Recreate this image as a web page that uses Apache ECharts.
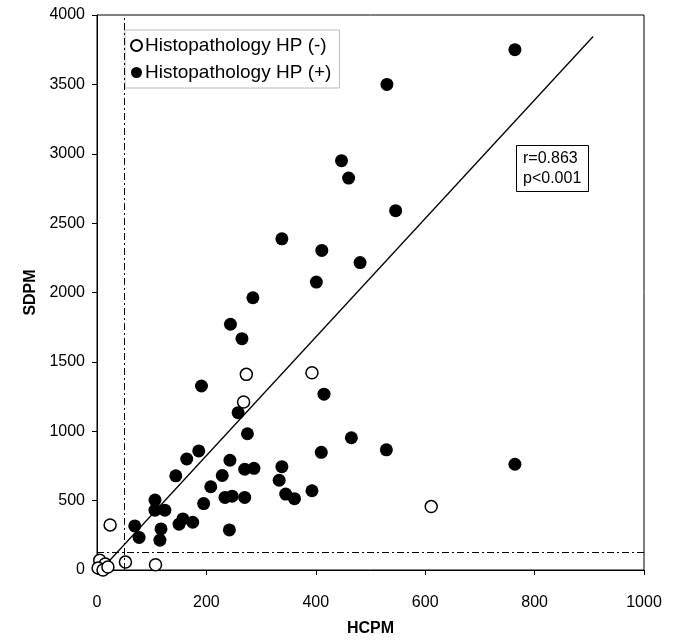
<!DOCTYPE html>
<html>
<head>
<meta charset="utf-8">
<script src="https://cdn.jsdelivr.net/npm/echarts@6/dist/echarts.min.js"></script>
<style>
  html, body { margin: 0; padding: 0; background: #fff; }
  #main { width: 675px; height: 642px; }
</style>
</head>
<body>
<div id="main"></div>
<script>
// HP (+) points : [HCPM, SDPM]
var hpPos = [
  [764, 3750], [530, 3500], [447, 2950], [460, 2825], [546, 2590],
  [338, 2387], [411, 2303], [481, 2216], [401, 2075], [285, 1962],
  [244, 1771], [265, 1667], [191, 1326], [415, 1267], [258, 1134],
  [275, 982], [465, 953], [529, 866], [764, 762], [410, 848],
  [186, 858], [164, 800], [243, 791], [144, 679], [229, 681],
  [270, 726], [287, 733], [338, 745], [333, 647], [208, 600],
  [393, 571], [345, 547], [361, 514], [234, 523], [247, 532],
  [270, 523], [195, 479], [106, 504], [106, 431], [124, 431],
  [69, 318], [157, 368], [150, 330], [175, 344], [117, 296],
  [242, 289], [77, 235], [115, 215], [10, 5]
];
// HP (-) points
var hpNeg = [
  [273, 1410], [393, 1422], [268, 1211], [611, 457], [24, 325],
  [52, 57], [107, 38], [5, 70], [15, 43], [2, 14], [11, 0], [20, 22]
];
// regression line end points
var fitLine = [[10, 13], [907, 3845]];
// cut-off lines
var cutX = 50;
var cutY = 130;
var xTicks = [0, 200, 400, 600, 800, 1000];
var yTicks = [0, 500, 1000, 1500, 2000, 2500, 3000, 3500, 4000];

var font = 'Liberation Sans, Arial, sans-serif';
var chart = echarts.init(document.getElementById('main'));

chart.setOption({
  animation: false,
  backgroundColor: '#fff',
  textStyle: { fontFamily: font },
  grid: { left: 97, right: 31, top: 15, bottom: 68, show: true, borderColor: '#000', borderWidth: 1 },
  title: {
    text: 'r=0.863\np<0.001',
    left: 516, top: 145,
    borderColor: '#000', borderWidth: 1,
    padding: [4, 7, 3, 7],
    textStyle: { fontFamily: font, fontSize: 16, fontWeight: 'normal', color: '#000', lineHeight: 20 }
  },
  legend: {
    orient: 'vertical',
    left: 125, top: 30,
    padding: [6, 8, 6, 5],
    itemGap: 8,
    itemWidth: 11, itemHeight: 11,
    borderColor: '#bbb', borderWidth: 1,
    backgroundColor: '#fff',
    textStyle: { fontFamily: font, fontSize: 19, color: '#000', padding: [0, 0, 0, -2] },
    data: [
      { name: 'Histopathology HP (-)', icon: 'circle' },
      { name: 'Histopathology HP (+)', icon: 'circle' }
    ]
  },
  xAxis: {
    type: 'value', min: 0, max: 1000, interval: 200,
    name: 'HCPM', nameLocation: 'middle', nameGap: 51,
    nameTextStyle: { fontFamily: font, fontSize: 16, fontWeight: 'bold', color: '#000' },
    axisLine: { lineStyle: { color: '#000' } },
    axisTick: { show: true, inside: false, length: 5, lineStyle: { color: '#000' } },
    axisLabel: { fontFamily: font, fontSize: 16, color: '#000', margin: 25,
      formatter: function (v) { return xTicks.indexOf(v) >= 0 ? String(v) : ''; } },
    splitLine: { show: false }
  },
  yAxis: {
    type: 'value', min: 0, max: 4000, interval: 500,
    name: 'SDPM', nameLocation: 'middle', nameGap: 56,
    nameTextStyle: { fontFamily: font, fontSize: 16, fontWeight: 'bold', color: '#000' },
    axisLine: { show: true, lineStyle: { color: '#000' } },
    axisTick: { show: true, inside: false, length: 5, lineStyle: { color: '#000' } },
    axisLabel: { fontFamily: font, fontSize: 16, color: '#000', margin: 12,
      formatter: function (v) { return yTicks.indexOf(v) >= 0 ? String(v) : ''; } },
    splitLine: { show: false }
  },
  series: [
    {
      name: 'fit',
      type: 'line',
      data: fitLine,
      symbol: 'none',
      lineStyle: { color: '#000', width: 1.3 },
      z: 1,
      markLine: {
        silent: true,
        symbol: 'none',
        label: { show: false },
        lineStyle: { color: '#000', width: 1, type: [7, 3, 2, 3] },
        data: [
          [{ coord: [cutX, 0] }, { coord: [cutX, 4000] }],
          [{ coord: [0, cutY] }, { coord: [1000, cutY] }]
        ]
      }
    },
    {
      name: 'Histopathology HP (+)',
      type: 'scatter',
      data: hpPos,
      symbol: 'circle',
      symbolSize: 13,
      itemStyle: { color: '#000', borderColor: '#000', borderWidth: 0, opacity: 1 },
      z: 3
    },
    {
      name: 'Histopathology HP (-)',
      type: 'scatter',
      data: hpNeg,
      symbol: 'circle',
      symbolSize: 12,
      itemStyle: { color: '#fff', borderColor: '#000', borderWidth: 1.5, opacity: 1 },
      z: 4
    }
  ]
});
</script>
</body>
</html>
